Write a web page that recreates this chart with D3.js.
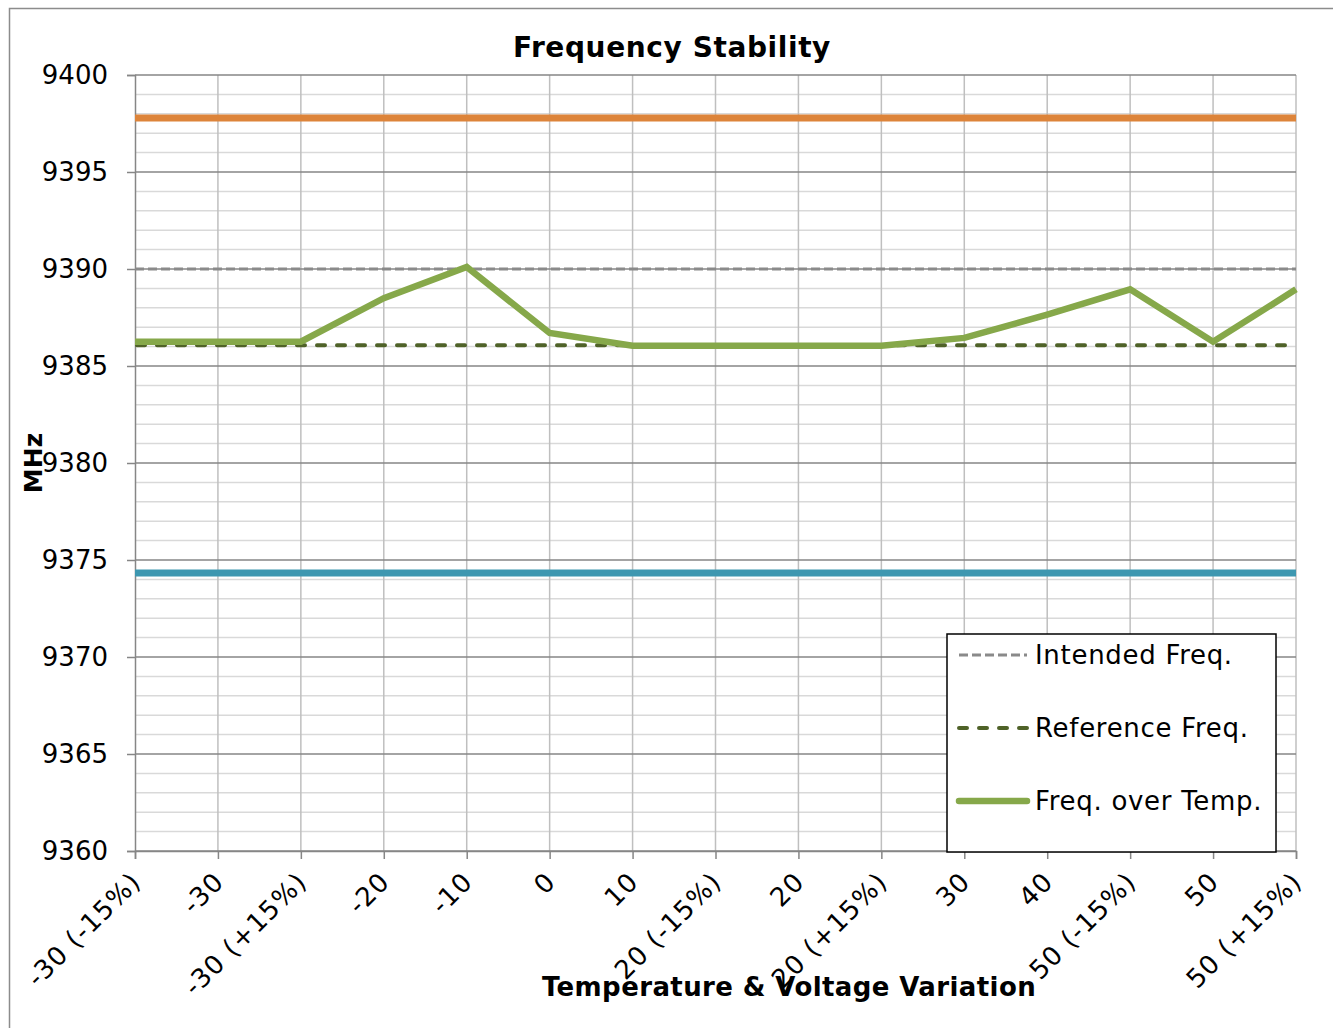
<!DOCTYPE html>
<html><head><meta charset="utf-8">
<script src="https://cdn.jsdelivr.net/npm/d3@7"></script>
<style>
html,body{margin:0;padding:0;background:#fff;}
text{font-family:"DejaVu Sans",Verdana,sans-serif;fill:#000;}
</style></head>
<body>
<script>
const categories = ["-30 (-15%)","-30","-30 (+15%)","-20","-10","0","10","20 (-15%)","20","20 (+15%)","30","40","50 (-15%)","50","50 (+15%)"];
const freqOverTemp = [9386.25,9386.25,9386.25,9388.5,9390.1,9386.7,9386.05,9386.05,9386.05,9386.05,9386.45,9387.65,9388.95,9386.25,9388.95];
const intendedFreq = 9390;
const referenceFreq = 9386.07;
const upperLimit = 9397.78;
const lowerLimit = 9374.33;
const yTicks = [9360,9365,9370,9375,9380,9385,9390,9395,9400];
const legendLabels = ["Intended Freq.","Reference Freq.","Freq. over Temp."];

const W=1333,H=1028;
const svg=d3.select("body").append("svg").attr("width",W).attr("height",H);
svg.append("rect").attr("x",9.5).attr("y",8.5).attr("width",1340).attr("height",1040).attr("fill","#fff").attr("stroke","#8c8c8c").attr("stroke-width",1.5);

const L=135,R=1296,T=75,B=851;
const x=d3.scalePoint().domain(categories).range([L,R]);
const y=d3.scaleLinear().domain([9360,9400]).range([B,T]);

// minor gridlines
const minor=d3.range(9361,9400).filter(v=>v%5!==0);
svg.append("g").selectAll("line").data(minor).join("line")
 .attr("x1",L).attr("x2",R).attr("y1",d=>y(d)).attr("y2",d=>y(d))
 .attr("stroke","#d9d9d9").attr("stroke-width",1.5);
// vertical gridlines
svg.append("g").selectAll("line").data(categories.slice(1)).join("line")
 .attr("x1",d=>x(d)).attr("x2",d=>x(d)).attr("y1",T).attr("y2",B)
 .attr("stroke","#bfbfbf").attr("stroke-width",1.5);
// major gridlines
svg.append("g").selectAll("line").data(yTicks).join("line")
 .attr("x1",L).attr("x2",R).attr("y1",d=>y(d)).attr("y2",d=>y(d))
 .attr("stroke","#868686").attr("stroke-width",1.5);

// y axis
const yAxis=svg.append("g").attr("transform",`translate(${L},0)`)
 .call(d3.axisLeft(y).tickValues(yTicks).tickSize(8).tickPadding(19).tickFormat(d3.format("d")));
yAxis.select(".domain").attr("stroke","#868686").attr("stroke-width",1.5);
yAxis.selectAll(".tick line").attr("stroke","#868686").attr("stroke-width",1.5);
yAxis.selectAll(".tick text").attr("font-size",26).attr("font-family","DejaVu Sans").attr("fill","#000");

// x axis
const xAxis=svg.append("g").attr("transform",`translate(0,${B})`)
 .call(d3.axisBottom(x).tickSize(8).tickFormat(""));
xAxis.select(".domain").attr("stroke","#868686").attr("stroke-width",1.5);
xAxis.selectAll(".tick line").attr("stroke","#868686").attr("stroke-width",1.5);
svg.append("g").selectAll("text").data(categories).join("text")
 .attr("transform",d=>`translate(${x(d)+1},${B+26}) rotate(-45)`)
 .attr("text-anchor","end").attr("dy","0.35em").attr("font-size",26).attr("letter-spacing",1).text(d=>d);

// limit lines
const line=d3.line().x(d=>x(d[0])).y(d=>y(d[1]));
function hline(v){return categories.map(c=>[c,v]);}
svg.append("path").attr("d",line(hline(upperLimit))).attr("fill","none").attr("stroke","#dd843a").attr("stroke-width",7);
svg.append("path").attr("d",line(hline(lowerLimit))).attr("fill","none").attr("stroke","#3d97b0").attr("stroke-width",7);
svg.append("path").attr("d",line(hline(intendedFreq))).attr("fill","none").attr("stroke","#8a8a8a").attr("stroke-width",3).attr("stroke-dasharray","9,4");
svg.append("path").attr("d",line(hline(referenceFreq))).attr("fill","none").attr("stroke","#4f6228").attr("stroke-width",4).attr("stroke-dasharray","8,12").attr("stroke-linecap","round").attr("stroke-dashoffset",-2);
svg.append("path").attr("d",line(categories.map((c,i)=>[c,freqOverTemp[i]]))).attr("fill","none").attr("stroke","#86a84a").attr("stroke-width",6.5).attr("stroke-linejoin","miter");

// titles
svg.append("text").attr("x",672).attr("y",57).attr("text-anchor","middle").attr("font-weight","bold").attr("font-size",28).attr("letter-spacing",0.6).text("Frequency Stability");
svg.append("text").attr("x",789).attr("y",996).attr("text-anchor","middle").attr("font-weight","bold").attr("font-size",26).attr("letter-spacing",0.4).text("Temperature & Voltage Variation");
svg.append("text").attr("transform","translate(42,463) rotate(-90)").attr("text-anchor","middle").attr("font-weight","bold").attr("font-size",25).text("MHz");

// legend
const lg=svg.append("g");
lg.append("rect").attr("x",947).attr("y",634).attr("width",329).attr("height",218).attr("fill","#fff").attr("stroke","#000").attr("stroke-width",1.5);
const rows=[655,728,801];
const styles=[
 {stroke:"#8a8a8a",w:3,dash:"9,4",cap:"butt"},
 {stroke:"#4f6228",w:4,dash:"8,12",cap:"round"},
 {stroke:"#86a84a",w:6.5,dash:null,cap:"round"}];
legendLabels.forEach((t,i)=>{
  const s=styles[i];
  const ln=lg.append("line").attr("x1",959).attr("x2",1027).attr("y1",rows[i]).attr("y2",rows[i])
   .attr("stroke",s.stroke).attr("stroke-width",s.w).attr("stroke-linecap",s.cap);
  if(s.dash) ln.attr("stroke-dasharray",s.dash);
  lg.append("text").attr("x",1035).attr("y",rows[i]).attr("dy","0.35em").attr("font-size",26).attr("letter-spacing",0.7).text(t);
});
</script>
</body></html>
